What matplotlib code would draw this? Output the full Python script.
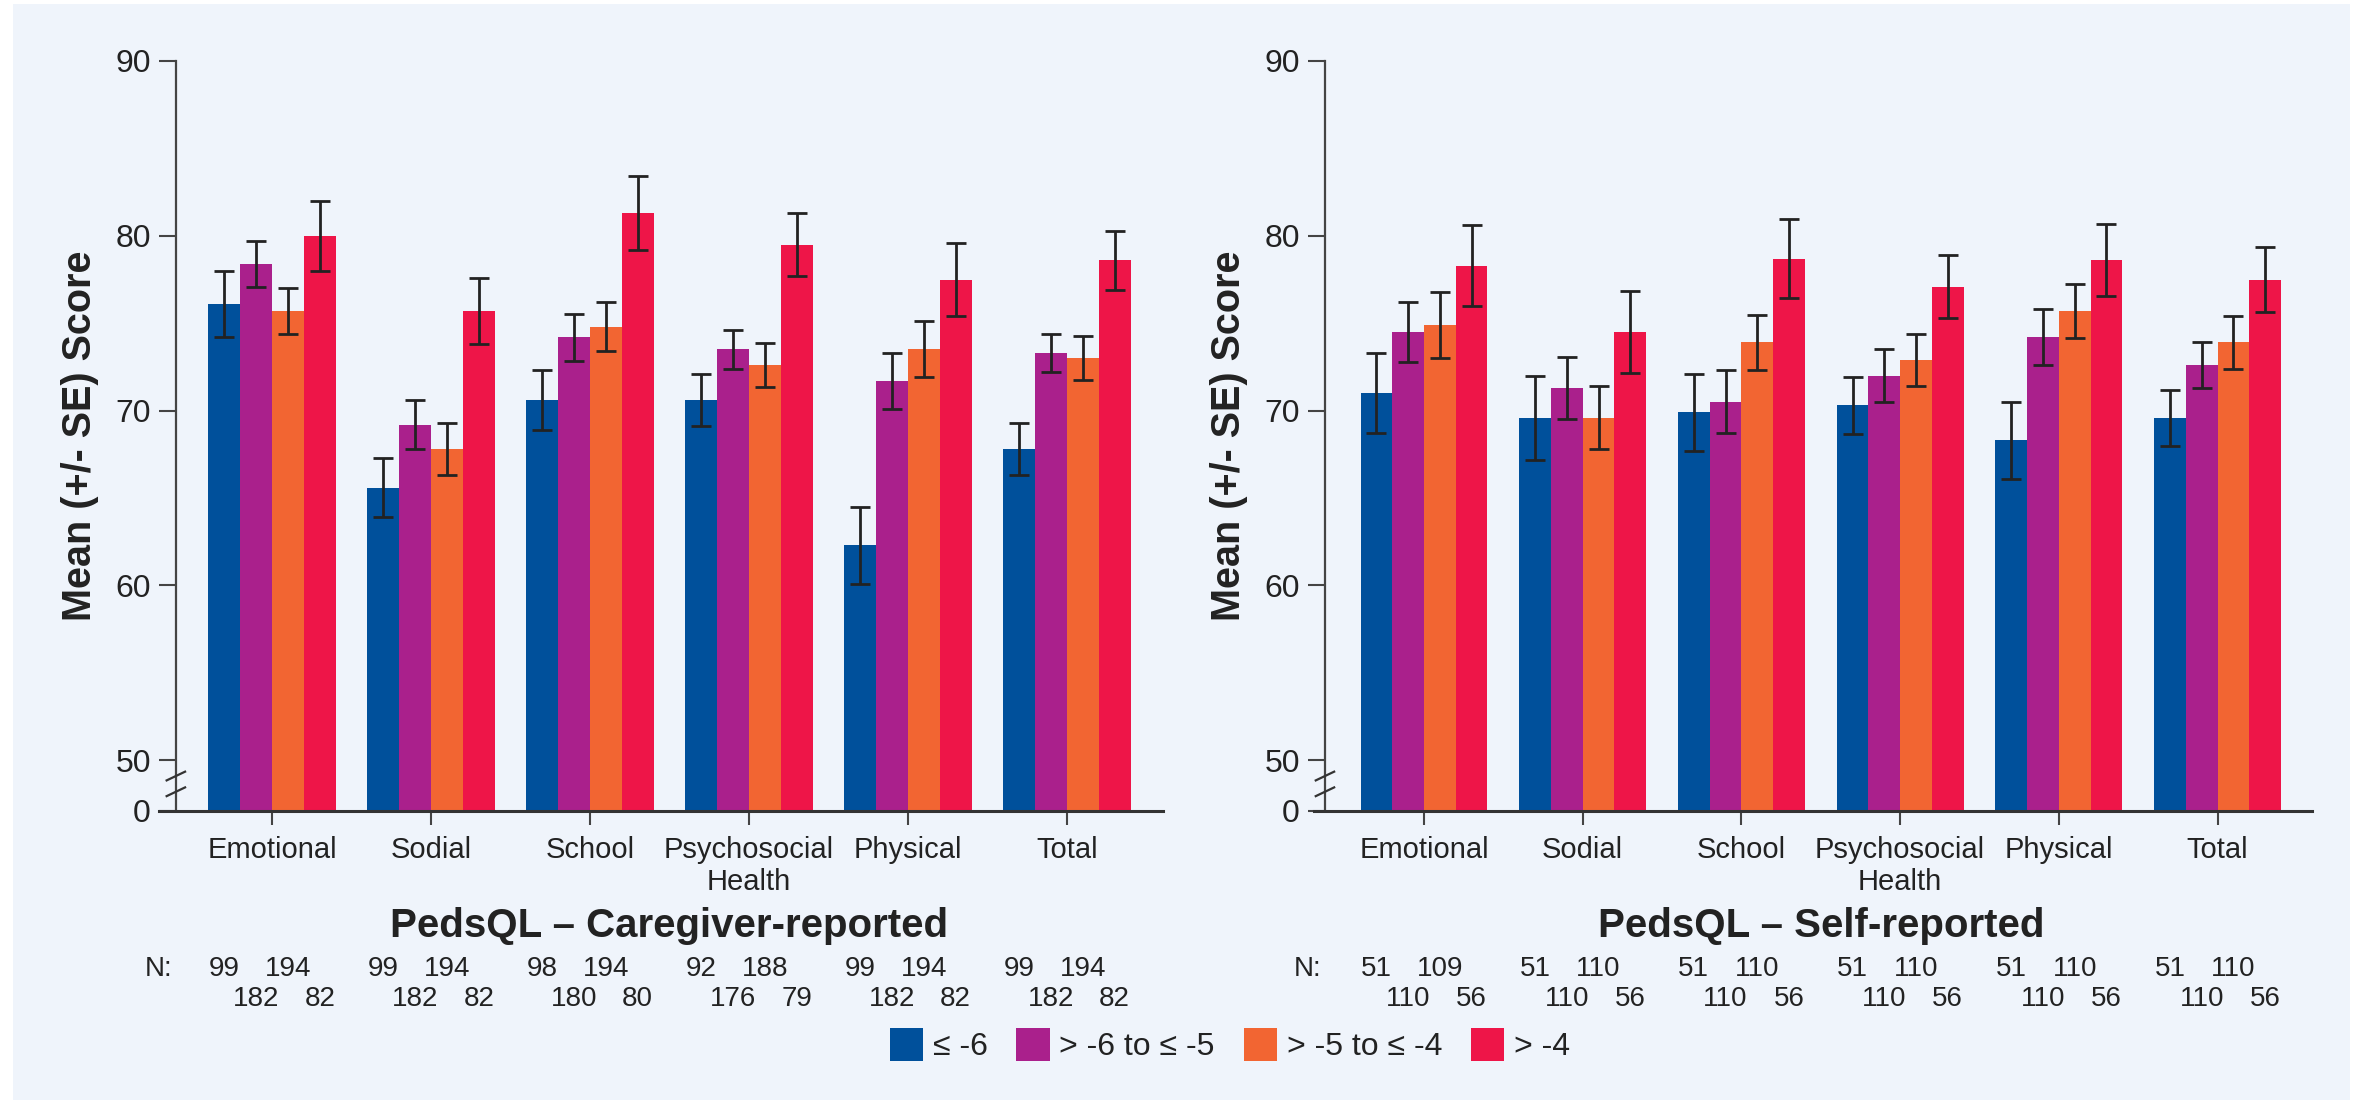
import matplotlib
matplotlib.use("Agg")
import matplotlib.pyplot as plt
from matplotlib.patches import Patch, Rectangle
import numpy as np

plt.rcParams['font.family'] = ['Liberation Sans', 'DejaVu Sans']

categories = ["Emotional", "Sodial", "School", "Psychosocial\nHealth", "Physical", "Total"]
groups = ["≤ -6", "> -6 to ≤ -5", "> -5 to ≤ -4", "> -4"]
colors = ["#00509B", "#AA208C", "#F26532", "#EE1548"]

# Caregiver-reported means and SE
cg_le6 = [76.1, 65.6, 70.6, 70.6, 62.3, 67.8]
cg_6to5 = [78.4, 69.2, 74.2, 73.5, 71.7, 73.3]
cg_5to4 = [75.7, 67.8, 74.8, 72.6, 73.5, 73.0]
cg_gt4 = [80.0, 75.7, 81.3, 79.5, 77.5, 78.6]
cg_se_le6 = [1.9, 1.7, 1.7, 1.5, 2.2, 1.5]
cg_se_6to5 = [1.3, 1.4, 1.35, 1.1, 1.6, 1.1]
cg_se_5to4 = [1.3, 1.5, 1.4, 1.25, 1.6, 1.25]
cg_se_gt4 = [2.0, 1.9, 2.1, 1.8, 2.1, 1.7]

# Self-reported means and SE
sr_le6 = [71.0, 69.6, 69.9, 70.3, 68.3, 69.6]
sr_6to5 = [74.5, 71.3, 70.5, 72.0, 74.2, 72.6]
sr_5to4 = [74.9, 69.6, 73.9, 72.9, 75.7, 73.9]
sr_gt4 = [78.3, 74.5, 78.7, 77.1, 78.6, 77.5]
sr_se_le6 = [2.3, 2.4, 2.2, 1.65, 2.2, 1.6]
sr_se_6to5 = [1.7, 1.75, 1.8, 1.5, 1.6, 1.3]
sr_se_5to4 = [1.9, 1.8, 1.55, 1.5, 1.55, 1.5]
sr_se_gt4 = [2.3, 2.35, 2.25, 1.8, 2.05, 1.85]

# Sample sizes
cg_n_le6 = [99, 99, 98, 92, 99, 99]
cg_n_6to5 = [182, 182, 180, 176, 182, 182]
cg_n_5to4 = [194, 194, 194, 188, 194, 194]
cg_n_gt4 = [82, 82, 80, 79, 82, 82]
sr_n_le6 = [51, 51, 51, 51, 51, 51]
sr_n_6to5 = [110, 110, 110, 110, 110, 110]
sr_n_5to4 = [109, 110, 110, 110, 110, 110]
sr_n_gt4 = [56, 56, 56, 56, 56, 56]

titles = ["PedsQL – Caregiver-reported", "PedsQL – Self-reported"]

yticks = [50, 60, 70, 80, 90]
ybottom = 47.1

W, H = 2356, 1102
fig = plt.figure(figsize=(W / 100, H / 100), dpi=100)
fig.patch.set_facecolor("white")
fig.patches.append(Rectangle((13 / W, 2 / H), (2350 - 13) / W, (1098 - 2) / H,
                             transform=fig.transFigure, facecolor="#EFF4FB",
                             edgecolor="none", zorder=-10))

panels = [
    dict(rect=[159 / W, 1 - 811 / H, (1163 - 159) / W, (811 - 61) / H],
         xlim=(-0.711, 5.604), yaxis_x=-0.605,
         means=[cg_le6, cg_6to5, cg_5to4, cg_gt4],
         ses=[cg_se_le6, cg_se_6to5, cg_se_5to4, cg_se_gt4],
         ns=[cg_n_le6, cg_n_6to5, cg_n_5to4, cg_n_gt4], title=titles[0]),
    dict(rect=[1314 / W, 1 - 811 / H, (2312 - 1314) / W, (811 - 61) / H],
         xlim=(-0.693, 5.595), yaxis_x=-0.624,
         means=[sr_le6, sr_6to5, sr_5to4, sr_gt4],
         ses=[sr_se_le6, sr_se_6to5, sr_se_5to4, sr_se_gt4],
         ns=[sr_n_le6, sr_n_6to5, sr_n_5to4, sr_n_gt4], title=titles[1]),
]

x = np.arange(len(categories))
bw = 0.2
txtc = "#222222"
for p in panels:
    ax = fig.add_axes(p["rect"])
    ax.patch.set_alpha(0)
    for i, (m, s) in enumerate(zip(p["means"], p["ses"])):
        xs = x + (i - 1.5) * bw
        hts = np.array(m) - ybottom
        ax.bar(xs, hts, bw, bottom=ybottom, color=colors[i], edgecolor="none", zorder=2)
        ax.errorbar(xs, m, yerr=s, fmt="none", ecolor="#222222", elinewidth=2,
                    capsize=7, capthick=2, zorder=3)
    ax.set_xlim(*p["xlim"])
    ax.set_ylim(ybottom, 90)
    ax.spines["top"].set_visible(False)
    ax.spines["right"].set_visible(False)
    ax.spines["left"].set_position(("data", p["yaxis_x"]))
    ax.spines["left"].set_linewidth(1.6)
    ax.spines["left"].set_color("#444444")
    ax.spines["bottom"].set_linewidth(2.2)
    ax.spines["bottom"].set_color("#333333")
    ax.set_yticks([ybottom] + yticks)
    ax.set_yticklabels(["0"] + [str(v) for v in yticks])
    ax.tick_params(axis="y", direction="out", length=12, width=1.5, colors="#444444",
                   labelsize=23, labelcolor=txtc, pad=6)
    ax.set_xticks(x)
    ax.set_xticklabels(categories)
    ax.tick_params(axis="x", direction="out", length=10, width=1.5, colors="#444444",
                   labelsize=21, labelcolor=txtc, pad=8)
    ax.set_ylabel("Mean (+/- SE) Score", fontsize=28.5, fontweight="bold", color=txtc,
                  labelpad=12)
    # axis break marks
    yx = p["yaxis_x"]
    for yb in (49.1, 48.2):
        ax.plot([yx - 0.058, yx + 0.058], [yb - 0.25, yb + 0.25], color="#333333",
                lw=1.6, clip_on=False, zorder=5)
    # title
    ax.text(np.mean(x), -0.153, p["title"], transform=ax.get_xaxis_transform(),
            ha="center", va="center", fontsize=29, fontweight="bold", color=txtc)
    # N rows
    ax.text(yx - 0.11, -0.21, "N:", transform=ax.get_xaxis_transform(),
            ha="center", va="center", fontsize=20, color=txtc)
    rows = [(-0.211, 0, 2), (-0.251, 1, 3)]
    for ypos, ia, ib in rows:
        for gi in (ia, ib):
            for ci in range(len(categories)):
                ax.text(x[ci] + (gi - 1.5) * bw, ypos, str(p["ns"][gi][ci]),
                        transform=ax.get_xaxis_transform(), ha="center", va="center",
                        fontsize=20, color=txtc)

handles = [Patch(facecolor=c, edgecolor="none") for c in colors]
fig.legend(handles, groups, loc="center", bbox_to_anchor=(0.522, 1 - 1045 / H), ncol=4,
           frameon=False, fontsize=23, handlelength=1.05, handleheight=1.25,
           handletextpad=0.3, columnspacing=0.9, labelcolor=txtc)

fig.savefig("out.png", dpi=100, facecolor=fig.get_facecolor())
